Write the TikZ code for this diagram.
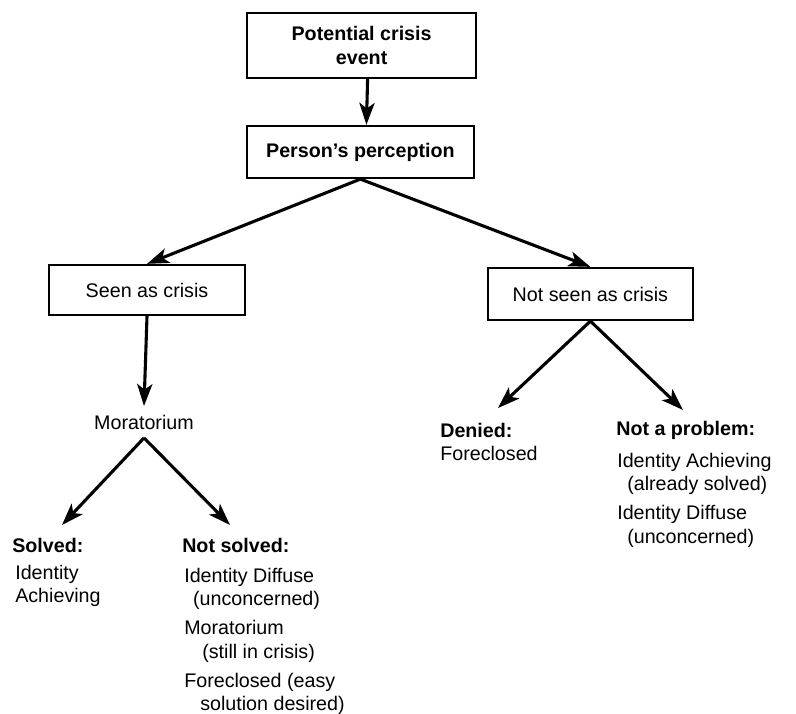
\documentclass[tikz,border=0pt]{standalone}
\usepackage{fontspec}
\setmainfont{Liberation Sans}
\usetikzlibrary{arrows.meta,positioning}

\begin{document}
\fontsize{14}{16.5}\selectfont
\begin{tikzpicture}[box/.style={draw,line width=1.6pt,inner sep=0pt,align=center},
  arr/.style={line width=2.2pt,-{Stealth[length=0.55cm,width=0.38cm,inset=0.14cm]}},
  txt/.style={inner sep=0pt,align=left}]
\useasboundingbox (0,0) rectangle (19.9,17.85);
\node[box,font=\bfseries,minimum width=5.725cm,minimum height=1.625cm] (event) at (9.04,16.71) {Potential crisis\\[1pt]event};
\node[box,font=\bfseries,minimum width=5.675cm,minimum height=1.3cm] (percep) at (9.01,14.05) {Person's perception};
\node[box,minimum width=4.9cm,minimum height=1.25cm] (seen) at (3.675,10.6) {Seen as crisis};
\node[box,minimum width=5.125cm,minimum height=1.3cm] (notseen) at (14.76,10.5) {Not seen as crisis};
\node[inner sep=6pt] (mora) at (3.6,7.3) {Moratorium};
\node[txt,font=\bfseries,anchor=west] (solvedhd) at (0.3,4.225) {Solved:};
\node[txt,anchor=north west] (solved) at (0.375,3.725) {Identity\\Achieving};
\node[txt,font=\bfseries,anchor=west] (notsolvedhd) at (4.55,4.225) {Not solved:};
\node[txt,anchor=north west] (notsolved) at (4.6,3.65) {Identity Diffuse\\
  \hspace*{0.22cm}(unconcerned)\\[4.3pt]
  Moratorium\\
  \hspace*{0.45cm}(still in crisis)\\[4.3pt]
  Foreclosed (easy\\
  \hspace*{0.4cm}solution desired)};
\node[txt,font=\bfseries,anchor=west] (deniedhd) at (11.0,7.1) {Denied:};
\node[txt,anchor=west] (denied) at (11.0,6.525) {Foreclosed};
\node[txt,font=\bfseries,anchor=west] (probhd) at (15.4,7.1) {Not a problem:};
\node[txt,anchor=north west] (prob) at (15.425,6.525) {Identity Achieving\\
  \hspace*{0.25cm}(already solved)\\[4.3pt]
  Identity Diffuse\\
  \hspace*{0.25cm}(unconcerned)};
\draw[arr] ([xshift=0.15cm]event.south) -- ([xshift=0.15cm]percep.north);
\draw[arr] (percep.south) -- (seen.north);
\draw[arr] (percep.south) -- (notseen.north);
\draw[arr] (seen.south) -- (mora.north);
\draw[arr] (mora.south) -- ([xshift=1.25cm,yshift=0.5cm]solvedhd.west);
\draw[arr] (mora.south) -- ([xshift=1.2cm,yshift=0.5cm]notsolvedhd.west);
\draw[arr] (notseen.south) -- ([xshift=1.45cm,yshift=0.55cm]deniedhd.west);
\draw[arr] (notseen.south) -- ([xshift=1.675cm,yshift=0.5cm]probhd.west);
\end{tikzpicture}
\end{document}
